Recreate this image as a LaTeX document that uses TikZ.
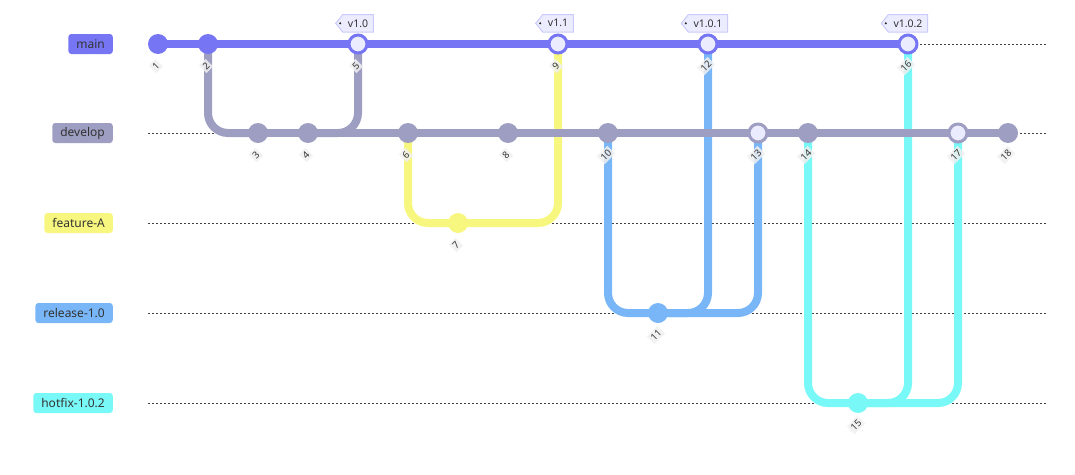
\documentclass[tikz,border=0pt]{standalone}
\usepackage{fontspec}
\setmainfont{Noto Sans}
\usepackage{tikz}
\usetikzlibrary{positioning,backgrounds,calc}
\definecolor{gmain}{HTML}{7676F4}
\definecolor{gdev}{HTML}{9E9EC2}
\definecolor{gfeat}{HTML}{F7F780}
\definecolor{grel}{HTML}{78B6F8}
\definecolor{ghot}{HTML}{78F8F6}
\definecolor{mergefill}{HTML}{ECECFF}
\definecolor{tagline}{HTML}{CACAFB}
\definecolor{textgray}{HTML}{333333}

\begin{document}
\begin{tikzpicture}[x=1pt,y=1pt,
	commit/.style={circle,fill=#1,minimum size=20pt,inner sep=0pt},
	merge/.style={circle,draw=#1,line width=3pt,fill=mergefill,minimum size=18pt,inner sep=0pt},
	branch/.style={fill=#1,rounded corners=3pt,minimum height=20pt,inner xsep=8pt,inner ysep=0pt,anchor=east,text=textgray,font=\fontsize{12}{14}\selectfont},
	lane/.style={draw=black!75,line width=0.9pt,dash pattern=on 2pt off 2pt},
	wire/.style={draw=#1,line width=8pt,rounded corners=20pt},
	clabel/.style={rotate=45,fill=gray!12,fill opacity=0.85,text opacity=1,inner sep=2pt,text=textgray,font=\fontsize{9.5}{10}\selectfont},
	tagtext/.style={inner xsep=5pt,inner ysep=0pt,minimum height=17pt,text=textgray,font=\fontsize{10.5}{12}\selectfont},
	tagbox/.style={draw=tagline,fill=mergefill,line width=1pt}
	]
	\useasboundingbox (0,0) rectangle (1075,-474);
	% branch names
	\node[branch=gmain] (bmain) at (113,-44) {main};
	\node[branch=gdev] (bdev) at (113,-133) {develop};
	\node[branch=gfeat] (bfeat) at (113,-223) {feature-A};
	\node[branch=grel] (brel) at (113,-313) {release-1.0};
	\node[branch=ghot] (bhot) at (113,-403) {hotfix-1.0.2};
	% commits
	\node[commit=gmain] (c1) at (158,-44) {};
	\node[commit=gmain] (c2) at (208,-44) {};
	\node[commit=gdev] (c3) at (258,-133) {};
	\node[commit=gdev] (c4) at (308,-133) {};
	\node[merge=gmain] (c5) at (358,-44) {};
	\node[commit=gdev] (c6) at (408,-133) {};
	\node[commit=gfeat] (c7) at (458,-223) {};
	\node[commit=gdev] (c8) at (508,-133) {};
	\node[merge=gmain] (c9) at (558,-44) {};
	\node[commit=gdev] (c10) at (608,-133) {};
	\node[commit=grel] (c11) at (658,-313) {};
	\node[merge=gmain] (c12) at (708,-44) {};
	\node[merge=gdev] (c13) at (758,-133) {};
	\node[commit=gdev] (c14) at (808,-133) {};
	\node[commit=ghot] (c15) at (858,-403) {};
	\node[merge=gmain] (c16) at (908,-44) {};
	\node[merge=gdev] (c17) at (958,-133) {};
	\node[commit=gdev] (c18) at (1008,-133) {};
	% commit ids
	\foreach \i in {1,...,18}
		\node[clabel] (n\i) at ([shift={(-2,-22)}]c\i.center) {\i};
	% tags
	\node[tagtext] (t1) [above=1.5pt of c5] {v1.0};
	\node[tagtext] (t2) [above=1.5pt of c9] {v1.1};
	\node[tagtext] (t3) [above=1.5pt of c12] {v1.0.1};
	\node[tagtext] (t4) [above=1.5pt of c16] {v1.0.2};
	\begin{scope}[on background layer]
		\foreach \b in {bmain,bdev,bfeat,brel,bhot}
			\draw[lane] ([xshift=35pt]\b.east) -- ([xshift=934pt]\b.east);
		\foreach \t in {t1,t2,t3,t4} {
			\draw[tagbox] (\t.north west) -- (\t.north east) -- (\t.south east) -- (\t.south west) -- ([xshift=-7pt]\t.west) -- cycle;
			\fill[textgray] ([xshift=-2.5pt]\t.west) circle (1.2pt);
		}
		\draw[wire=gfeat] (c6.center) |- (c7.center);
		\draw[wire=gfeat] (c7.center) -| (c9.center);
		\draw[wire=grel] (c10.center) |- (c11.center);
		\draw[wire=grel] (c11.center) -| (c12.center);
		\draw[wire=grel] (c11.center) -| (c13.center);
		\draw[wire=ghot] (c14.center) |- (c15.center);
		\draw[wire=ghot] (c15.center) -| (c16.center);
		\draw[wire=ghot] (c15.center) -| (c17.center);
		\draw[wire=gdev] (c2.center) |- (c3.center);
		\draw[wire=gdev] (c4.center) -| (c5.center);
		\draw[wire=gdev] (c3.center) -- (c18.center);
		\draw[wire=gmain] (c1.center) -- (c16.center);
	\end{scope}
\end{tikzpicture}
\end{document}
